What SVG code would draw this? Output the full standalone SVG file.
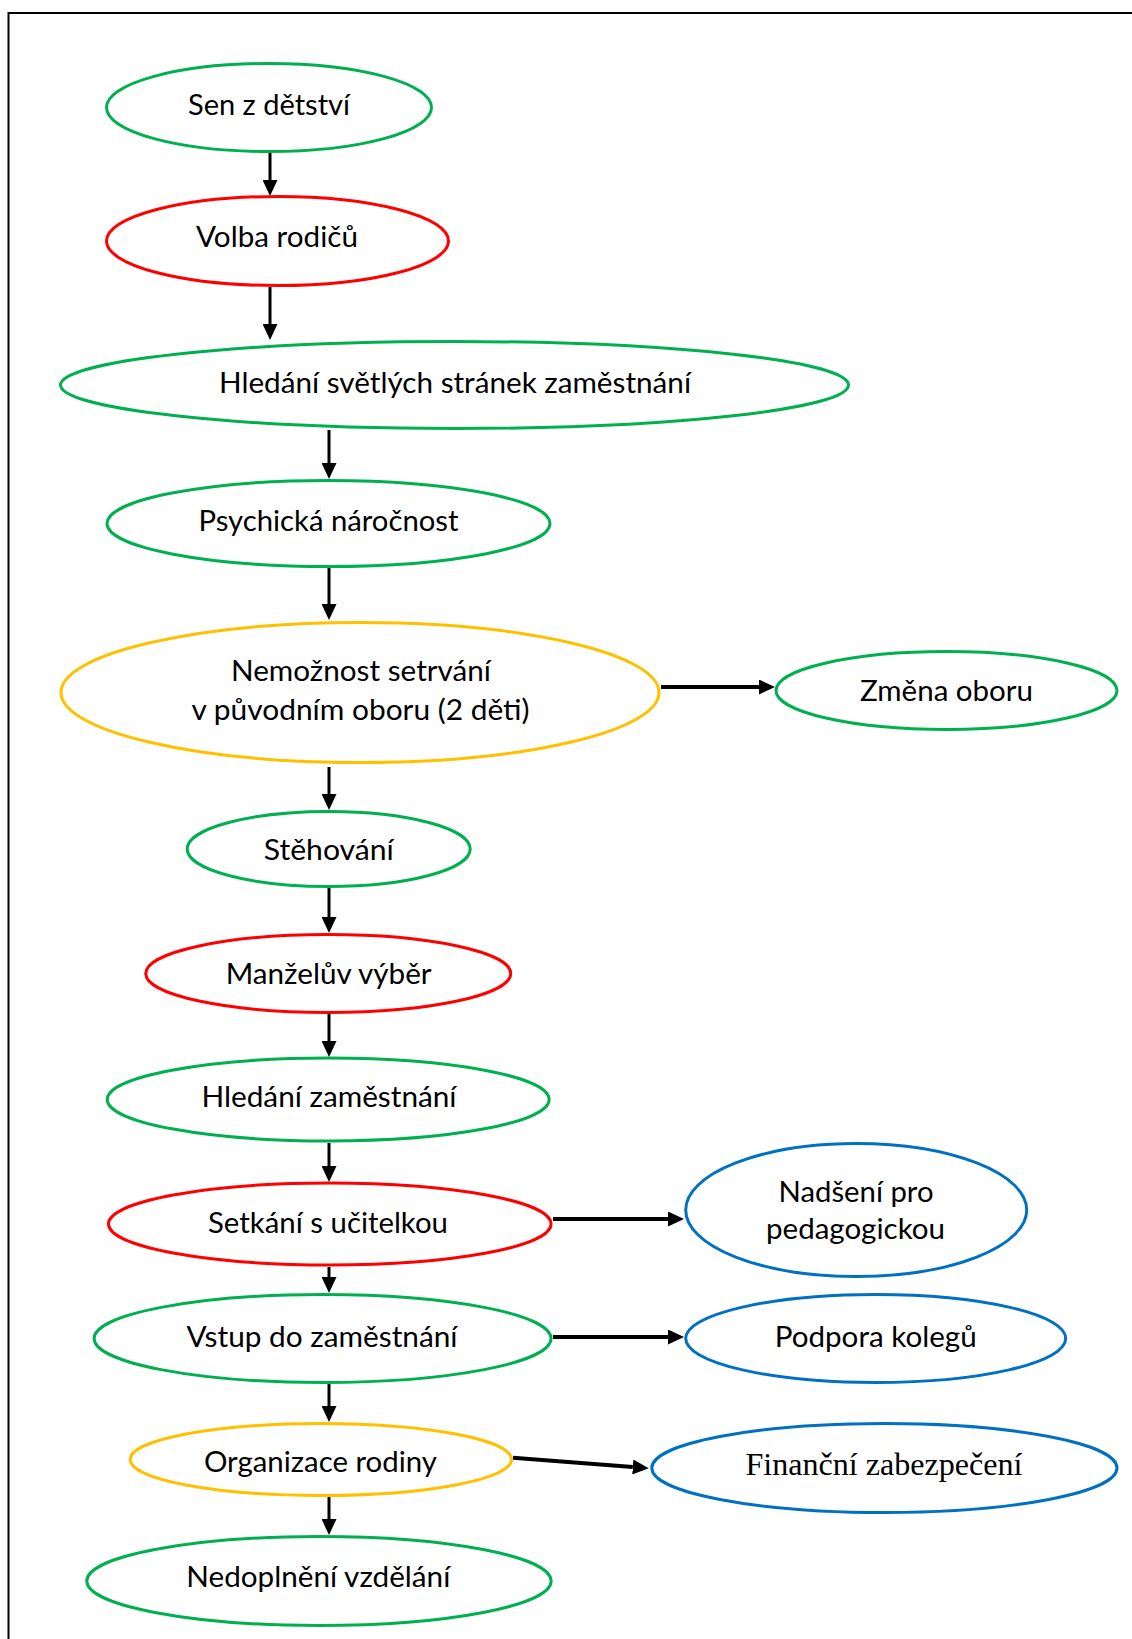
<svg xmlns="http://www.w3.org/2000/svg" width="1132" height="1639" viewBox="0 0 1132 1639">
  <style>
    .node ellipse { fill: #FFFFFF; stroke-width: 3; }
    .green ellipse { stroke: #00B050; }
    .red ellipse { stroke: #FF0000; }
    .amber ellipse { stroke: #FFC000; }
    .blue ellipse { stroke: #0070C0; }
    .node text { font-family: Lato, "Open Sans", "Liberation Sans", sans-serif; font-size: 28px; fill: #000000; text-anchor: middle; }
    .node text.serif { font-family: "Liberation Serif", "DejaVu Serif", serif; font-size: 31px; }
    .down { stroke: #000000; stroke-width: 3; fill: none; marker-end: url(#head); }
    .side { stroke: #000000; stroke-width: 4; fill: none; marker-end: url(#head); }
  </style>
  <defs>
    <marker id="head" viewBox="0 0 16 15" refX="0" refY="7.5" markerWidth="16" markerHeight="15" markerUnits="userSpaceOnUse" orient="auto">
      <path d="M0,0 L16,7.5 L0,15 z" fill="#000000"/>
    </marker>
  </defs>

  <rect width="1132" height="1639" fill="#FFFFFF"/>
  <!-- frame: left and top edges -->
  <path d="M8.5,1639 V13 H1132" fill="none" stroke="#000000" stroke-width="2"/>

  <g id="connectors">
    <path class="down" d="M270,153 V180"/>
    <path class="down" d="M270,287 V324"/>
    <path class="down" d="M329,430 V463"/>
    <path class="down" d="M329,568 V604"/>
    <path class="down" d="M329,767 V794"/>
    <path class="down" d="M329,888 V917"/>
    <path class="down" d="M329,1014 V1041"/>
    <path class="down" d="M329,1143 V1166"/>
    <path class="down" d="M329,1267 V1277"/>
    <path class="down" d="M329,1384 V1406"/>
    <path class="down" d="M329,1497 V1519"/>
    <path class="side" d="M661,687 H759"/>
    <path class="side" d="M553,1219 H668"/>
    <path class="side" d="M553,1337 H668"/>
    <path class="side" d="M513,1457.7 L632.8,1467"/>
  </g>

  <g id="sen-z-detstvi" class="node green">
    <ellipse cx="269" cy="107.5" rx="162.5" ry="44"/>
    <text x="269" y="115" textLength="162" lengthAdjust="spacingAndGlyphs">Sen z dětství</text>
  </g>
  <g id="volba-rodicu" class="node red">
    <ellipse cx="277.5" cy="241" rx="171" ry="44.5"/>
    <text x="277" y="246.5" textLength="162" lengthAdjust="spacingAndGlyphs">Volba rodičů</text>
  </g>
  <g id="hledani-svetlych-stranek" class="node green">
    <ellipse cx="454.5" cy="385" rx="394" ry="43.5"/>
    <text x="455" y="393" textLength="472" lengthAdjust="spacingAndGlyphs">Hledání světlých stránek zaměstnání</text>
  </g>
  <g id="psychicka-narocnost" class="node green">
    <ellipse cx="328.5" cy="523.5" rx="221.5" ry="43"/>
    <text x="328.5" y="531" textLength="260" lengthAdjust="spacingAndGlyphs">Psychická náročnost</text>
  </g>
  <g id="nemoznost-setrvani" class="node amber">
    <ellipse cx="360" cy="692.5" rx="299" ry="70"/>
    <text x="361" y="681" textLength="260" lengthAdjust="spacingAndGlyphs">Nemožnost setrvání</text>
    <text x="360.5" y="720" textLength="338" lengthAdjust="spacingAndGlyphs">v původním oboru (2 děti)</text>
  </g>
  <g id="zmena-oboru" class="node green">
    <ellipse cx="946.5" cy="690.5" rx="170.5" ry="39"/>
    <text x="946.5" y="700.5" textLength="173" lengthAdjust="spacingAndGlyphs">Změna oboru</text>
  </g>
  <g id="stehovani" class="node green">
    <ellipse cx="328.7" cy="849" rx="141.5" ry="37.5"/>
    <text x="328.8" y="860" textLength="130" lengthAdjust="spacingAndGlyphs">Stěhování</text>
  </g>
  <g id="manzeluv-vyber" class="node red">
    <ellipse cx="328.2" cy="973.5" rx="182.5" ry="39"/>
    <text x="328.7" y="983.5" textLength="206" lengthAdjust="spacingAndGlyphs">Manželův výběr</text>
  </g>
  <g id="hledani-zamestnani" class="node green">
    <ellipse cx="328.2" cy="1099.5" rx="221" ry="41.5"/>
    <text x="329" y="1107" textLength="255" lengthAdjust="spacingAndGlyphs">Hledání zaměstnání</text>
  </g>
  <g id="setkani-s-ucitelkou" class="node red">
    <ellipse cx="329.8" cy="1224" rx="221.3" ry="41"/>
    <text x="328" y="1233.3" textLength="240" lengthAdjust="spacingAndGlyphs">Setkání s učitelkou</text>
  </g>
  <g id="nadseni-pro-pedagogickou" class="node blue">
    <ellipse cx="856.2" cy="1210" rx="170.5" ry="66.5"/>
    <text x="856" y="1201.7" textLength="155" lengthAdjust="spacingAndGlyphs">Nadšení pro</text>
    <text x="855.5" y="1239.3" textLength="179" lengthAdjust="spacingAndGlyphs">pedagogickou</text>
  </g>
  <g id="vstup-do-zamestnani" class="node green">
    <ellipse cx="322.6" cy="1338.5" rx="228.5" ry="44"/>
    <text x="322" y="1346.7" textLength="271" lengthAdjust="spacingAndGlyphs">Vstup do zaměstnání</text>
  </g>
  <g id="podpora-kolegu" class="node blue">
    <ellipse cx="875.7" cy="1338.5" rx="190" ry="44"/>
    <text x="875.7" y="1346.7" textLength="202" lengthAdjust="spacingAndGlyphs">Podpora kolegů</text>
  </g>
  <g id="organizace-rodiny" class="node amber">
    <ellipse cx="320.8" cy="1459.5" rx="190.7" ry="36"/>
    <text x="320.4" y="1472.3" textLength="233" lengthAdjust="spacingAndGlyphs">Organizace rodiny</text>
  </g>
  <g id="financni-zabezpeceni" class="node blue">
    <ellipse cx="884.4" cy="1468" rx="232.6" ry="44.5"/>
    <text class="serif" x="884" y="1475" textLength="277" lengthAdjust="spacingAndGlyphs">Finanční zabezpečení</text>
  </g>
  <g id="nedoplneni-vzdelani" class="node green">
    <ellipse cx="319" cy="1581" rx="232.2" ry="44.5"/>
    <text x="318.3" y="1587.3" textLength="264" lengthAdjust="spacingAndGlyphs">Nedoplnění vzdělání</text>
  </g>
</svg>
